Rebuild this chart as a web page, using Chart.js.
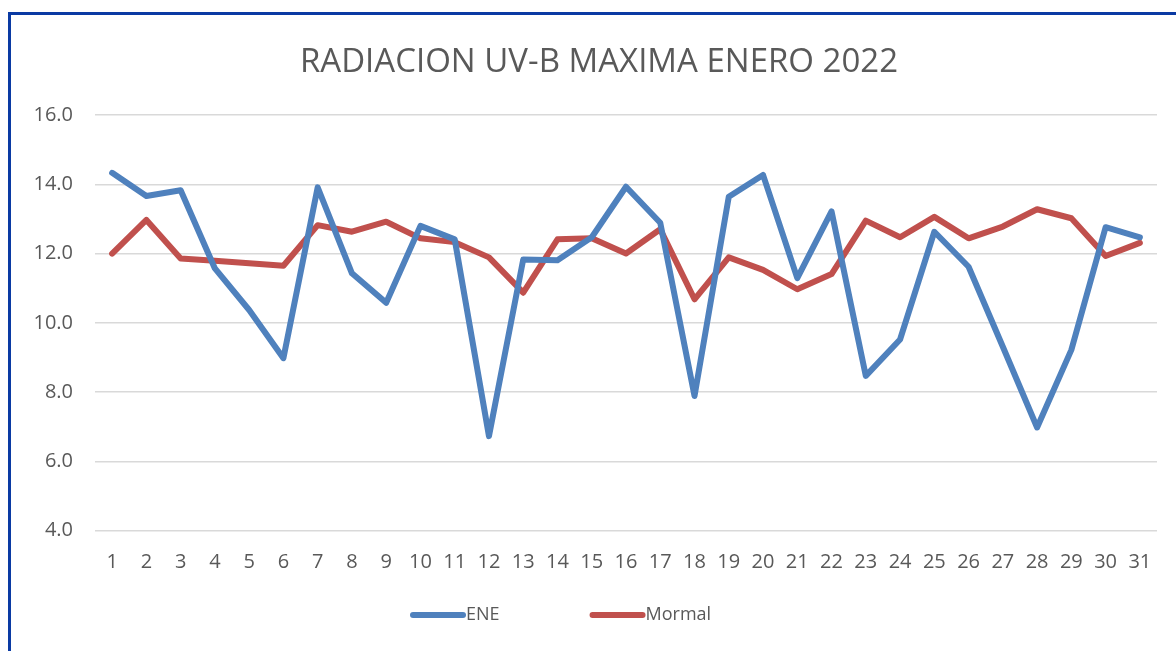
<!DOCTYPE html>
<html>
<head>
<meta charset="utf-8">
<script src="https://cdn.jsdelivr.net/npm/chart.js@4"></script>
<style>
  body { margin: 0; background: #fff; overflow: hidden; }
  #frame { position: absolute; left: 8px; top: 12px; width: 2000px; height: 2000px;
           border-left: 3px solid #0a3aa3; border-top: 3px solid #0a3aa3; }
  #chart { position: absolute; left: 0; top: 0; }
</style>
</head>
<body>
<div id="frame"></div>
<canvas id="chart" width="1176" height="651"></canvas>
<script>
/* ===== Data ===== */
const days = ['1','2','3','4','5','6','7','8','9','10','11','12','13','14','15','16',
              '17','18','19','20','21','22','23','24','25','26','27','28','29','30','31'];
const ene = [14.33, 13.66, 13.83, 11.57, 10.37, 8.98, 13.91, 11.43, 10.58, 12.80, 12.41,
             6.73, 11.83, 11.81, 12.47, 13.93, 12.89, 7.89, 13.64, 14.27, 11.29, 13.22,
             8.47, 9.52, 12.63, 11.62, 9.31, 6.98, 9.22, 12.76, 12.47];
const mormal = [12.00, 12.97, 11.86, 11.79, 11.72, 11.65, 12.82, 12.63, 12.92, 12.44, 12.33,
                11.89, 10.87, 12.41, 12.44, 12.00, 12.70, 10.68, 11.89, 11.53, 10.97, 11.41,
                12.95, 12.47, 13.06, 12.44, 12.78, 13.28, 13.02, 11.93, 12.31];
const yTicks = [4, 6, 8, 10, 12, 14, 16];
const titleText = 'RADIACION UV-B MAXIMA ENERO 2022';

const gray = '#595959';
const font = "'Open Sans', sans-serif";
const lineW = 6;

/* ===== Title + legend (Excel style) ===== */
const excelDecor = {
    id: 'excelDecor',
    afterDraw(chart){
        const ctx = chart.ctx;
        ctx.save();
        // title
        ctx.font = '33px ' + font;
        ctx.fillStyle = gray;
        ctx.textAlign = 'center';
        ctx.textBaseline = 'middle';
        ctx.fillText(titleText, 599, 63);
        // legend: line + text
        ctx.textAlign = 'left';
        ctx.font = '18px ' + font;
        let x = 413;
        const y = 615;
        chart.data.datasets.forEach(ds => {
            ctx.strokeStyle = ds.borderColor;
            ctx.lineWidth = lineW;
            ctx.lineCap = 'round';
            ctx.beginPath();
            ctx.moveTo(x, y);
            ctx.lineTo(x + 50, y);
            ctx.stroke();
            ctx.fillStyle = gray;
            ctx.fillText(ds.label, x + 53, y);
            x += 53 + ctx.measureText(ds.label).width + 93;
        });
        ctx.restore();
    }
};

/* ===== Chart ===== */
new Chart(document.getElementById('chart'), {
    type: 'line',
    data: {
        labels: days,
        datasets: [
            { label: 'ENE', data: ene, borderColor: '#4f81bd', backgroundColor: '#4f81bd' },
            { label: 'Mormal', data: mormal, borderColor: '#c0504d', backgroundColor: '#c0504d' }
        ]
    },
    options: {
        responsive: false,
        animation: false,
        layout: { padding: { left: 12, right: 19, top: 115, bottom: 70.3 } },
        elements: {
            line: { borderWidth: lineW, tension: 0, borderJoinStyle: 'round', borderCapStyle: 'round' },
            point: { radius: 0, hoverRadius: 0 }
        },
        plugins: {
            legend: { display: false },
            tooltip: { enabled: false },
            title: { display: false }
        },
        scales: {
            x: {
                offset: true,
                grid: { display: false, drawTicks: false },
                border: { display: false },
                ticks: { color: gray, font: { family: font, size: 20 }, padding: 20, maxRotation: 0, autoSkip: false },
                afterFit: scale => { scale.height = 50; }
            },
            y: {
                min: 4,
                max: 16,
                grid: { color: '#d9d9d9', lineWidth: 1.5, drawTicks: false },
                border: { display: false },
                ticks: { color: gray, font: { family: font, size: 20 }, padding: 22,
                         callback: v => v.toFixed(1) },
                afterBuildTicks: scale => { scale.ticks = yTicks.map(v => ({ value: v })); },
                afterFit: scale => { scale.width = 83; }
            }
        }
    },
    plugins: [excelDecor]
});
</script>
</body>
</html>
